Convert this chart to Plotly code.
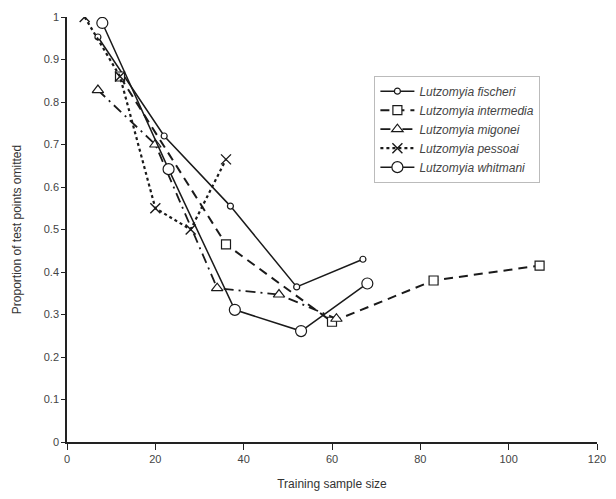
import plotly.graph_objects as go

fischeri_x = [7, 22, 37, 52, 67]
fischeri_y = [0.953, 0.72, 0.555, 0.365, 0.43]
intermedia_x = [12, 36, 60, 83, 107]
intermedia_y = [0.86, 0.465, 0.283, 0.38, 0.415]
migonei_x = [7, 20, 34, 48, 61]
migonei_y = [0.828, 0.70, 0.362, 0.347, 0.29]
pessoai_x = [4, 12, 20, 28, 36]
pessoai_y = [1.0, 0.86, 0.55, 0.50, 0.665]
whitmani_x = [8, 23, 38, 53, 68]
whitmani_y = [0.986, 0.642, 0.311, 0.261, 0.373]

x_ticks = [0, 20, 40, 60, 80, 100, 120]
y_ticks = [0, 0.1, 0.2, 0.3, 0.4, 0.5, 0.6, 0.7, 0.8, 0.9, 1]

fig = go.Figure()
ink = "#1a1a1a"
FONT = "Liberation Sans, Arial, sans-serif"

def add(name, xs, ys, dash, symbol, size, width=1.5, mlw=1.2):
    fig.add_trace(go.Scatter(
        x=xs, y=ys, name=name, mode="lines+markers",
        line=dict(color=ink, width=width, dash=dash),
        marker=dict(symbol=symbol, size=size, color="white",
                    line=dict(color=ink, width=mlw)),
    ))

add("<i>Lutzomyia fischeri</i>", fischeri_x, fischeri_y, "solid", "circle", 6)
add("<i>Lutzomyia intermedia</i>", intermedia_x, intermedia_y, "9px,6px", "square", 9, 2)
add("<i>Lutzomyia migonei</i>", migonei_x, migonei_y, "10px,5px,2px,5px", "triangle-up", 10, 1.8)
add("<i>Lutzomyia pessoai</i>", pessoai_x, pessoai_y, "dot", "x-thin", 10, 2.2, 1.4)
add("<i>Lutzomyia whitmani</i>", whitmani_x, whitmani_y, "solid", "circle", 11)

axis_common = dict(
    showgrid=False, zeroline=False, showline=True, linecolor="#222", linewidth=1.5,
    ticks="outside", tickcolor="#222", tickwidth=1.2, automargin=False,
    ticklabeloverflow="allow",
    tickfont=dict(family=FONT, size=11, color="#444"),
)

# page body has an 8px margin; compensate so the plot lands where the reference is
fig.update_layout(
    template="none",
    width=608, height=483,
    margin=dict(l=59, r=19, t=9, b=49, pad=0),
    paper_bgcolor="white", plot_bgcolor="white",
    xaxis=dict(range=[0, 120], tickvals=x_ticks, ticklen=6, **axis_common,
               title=dict(text="Training sample size", standoff=23,
                          font=dict(family=FONT, size=12, color="#333"))),
    yaxis=dict(range=[0, 1], tickvals=y_ticks, ticklen=4, **axis_common,
               title=dict(text="Proportion of test points omitted", standoff=20,
                          font=dict(family=FONT, size=12, color="#333"))),
    legend=dict(x=0.58, y=0.862, xanchor="left", yanchor="top",
                bordercolor="#bbb", borderwidth=1, bgcolor="white",
                font=dict(family=FONT, size=12, color="#444"),
                itemwidth=34, tracegroupgap=0),
    showlegend=True,
)

fig.write_html("out.html", post_script="document.body.style.overflow='hidden';")
